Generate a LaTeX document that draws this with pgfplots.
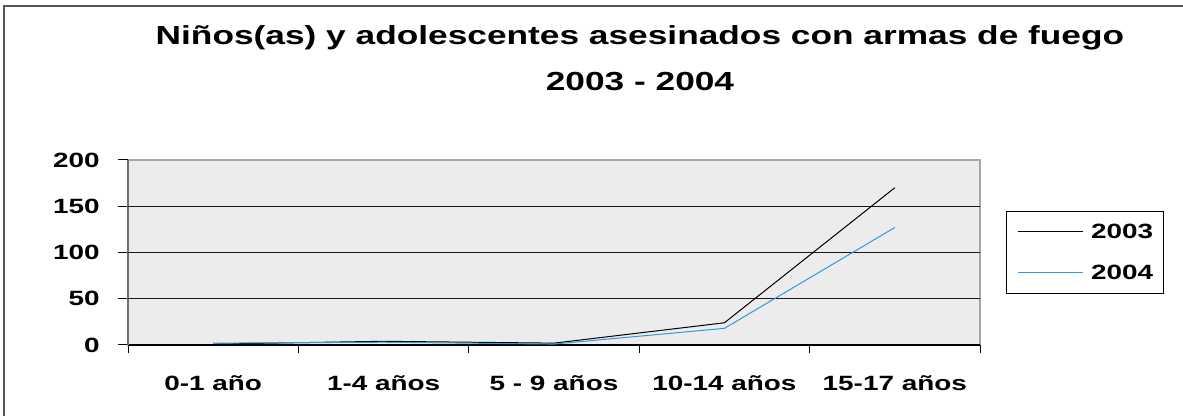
\documentclass[border=0pt]{standalone}
\usepackage{fontspec}
\setmainfont{Liberation Sans}[FakeStretch=1.35]
\usepackage{pgfplots}
\pgfplotsset{compat=1.18}
\definecolor{bgc}{HTML}{ECECEC}
\definecolor{bordc}{HTML}{A6A6A6}
\definecolor{axc}{HTML}{6E6E6E}
\definecolor{blueline}{HTML}{2F9BDA}
\definecolor{framec}{HTML}{555555}
\begin{document}
\begin{tikzpicture}
\useasboundingbox (0,0) rectangle (887.25pt,312pt);
\draw[framec, line width=1.5pt] (3pt,0) -- (3pt,307.5pt) -- (887.25pt,307.5pt);
\node[anchor=base, inner sep=0pt, font=\bfseries\fontsize{19.6}{22}\selectfont] at (480pt,278.25pt) {Niños(as) y adolescentes asesinados con armas de fuego};
\node[anchor=base, inner sep=0pt, font=\bfseries\fontsize{19.6}{22}\selectfont] at (480pt,243.75pt) {2003 - 2004};
\begin{axis}[
  at={(96pt,53.25pt)}, anchor=south west,
  width=639pt, height=138.75pt, scale only axis,
  xmin=-0.5, xmax=4.5, ymin=0, ymax=200,
  xtick={0,...,4},
  xticklabels={0-1 año,1-4 años,5 - 9 años,10-14 años,15-17 años},
  minor xtick={-0.5,0.5,...,4.5},
  ytick={0,50,...,200},
  extra y ticks={50,100,150},
  extra y tick labels={},
  extra y tick style={grid=major, major tick length=0pt},
  major grid style={black!90, line width=0.6pt},
  tick align=outside,
  major tick length=7.5pt, minor tick length=6pt,
  major x tick style={draw=none},
  minor x tick style={black, line width=0.75pt},
  major y tick style={black, line width=0.75pt},
  axis x line*=bottom, axis y line*=left,
  x axis line style={black, line width=0.9pt},
  y axis line style={axc, line width=1.2pt},
  axis background/.style={fill=bgc, draw=bordc, line width=1pt},
  /pgf/number format/assume math mode=true,
  xticklabel style={font=\bfseries\fontsize{15.5}{18}\selectfont, anchor=base, inner sep=0pt, yshift=-27pt},
  yticklabel style={font=\bfseries\fontsize{15.5}{18}\selectfont, anchor=east, inner sep=0pt, xshift=-13.5pt},
  legend style={at={(1.0305,0.7243)}, anchor=north west, draw=black, line width=0.75pt, fill=white,
    inner xsep=8pt, inner ysep=0pt, column sep=6pt,
    nodes={inner sep=0pt, minimum height=30.75pt, anchor=west, font=\bfseries\fontsize{15.5}{18}\selectfont}},
  legend image code/.code={\draw[#1, line width=0.75pt] (0pt,0pt) -- (48.75pt,0pt);},
]
\addplot[black, line width=0.75pt] coordinates {(0,1) (1,4) (2,2) (3,24) (4,170)};
\addplot[blueline, line width=0.75pt] coordinates {(0,2) (1,3) (2,1) (3,18) (4,127)};
\legend{2003,2004}
\end{axis}
\end{tikzpicture}
\end{document}
